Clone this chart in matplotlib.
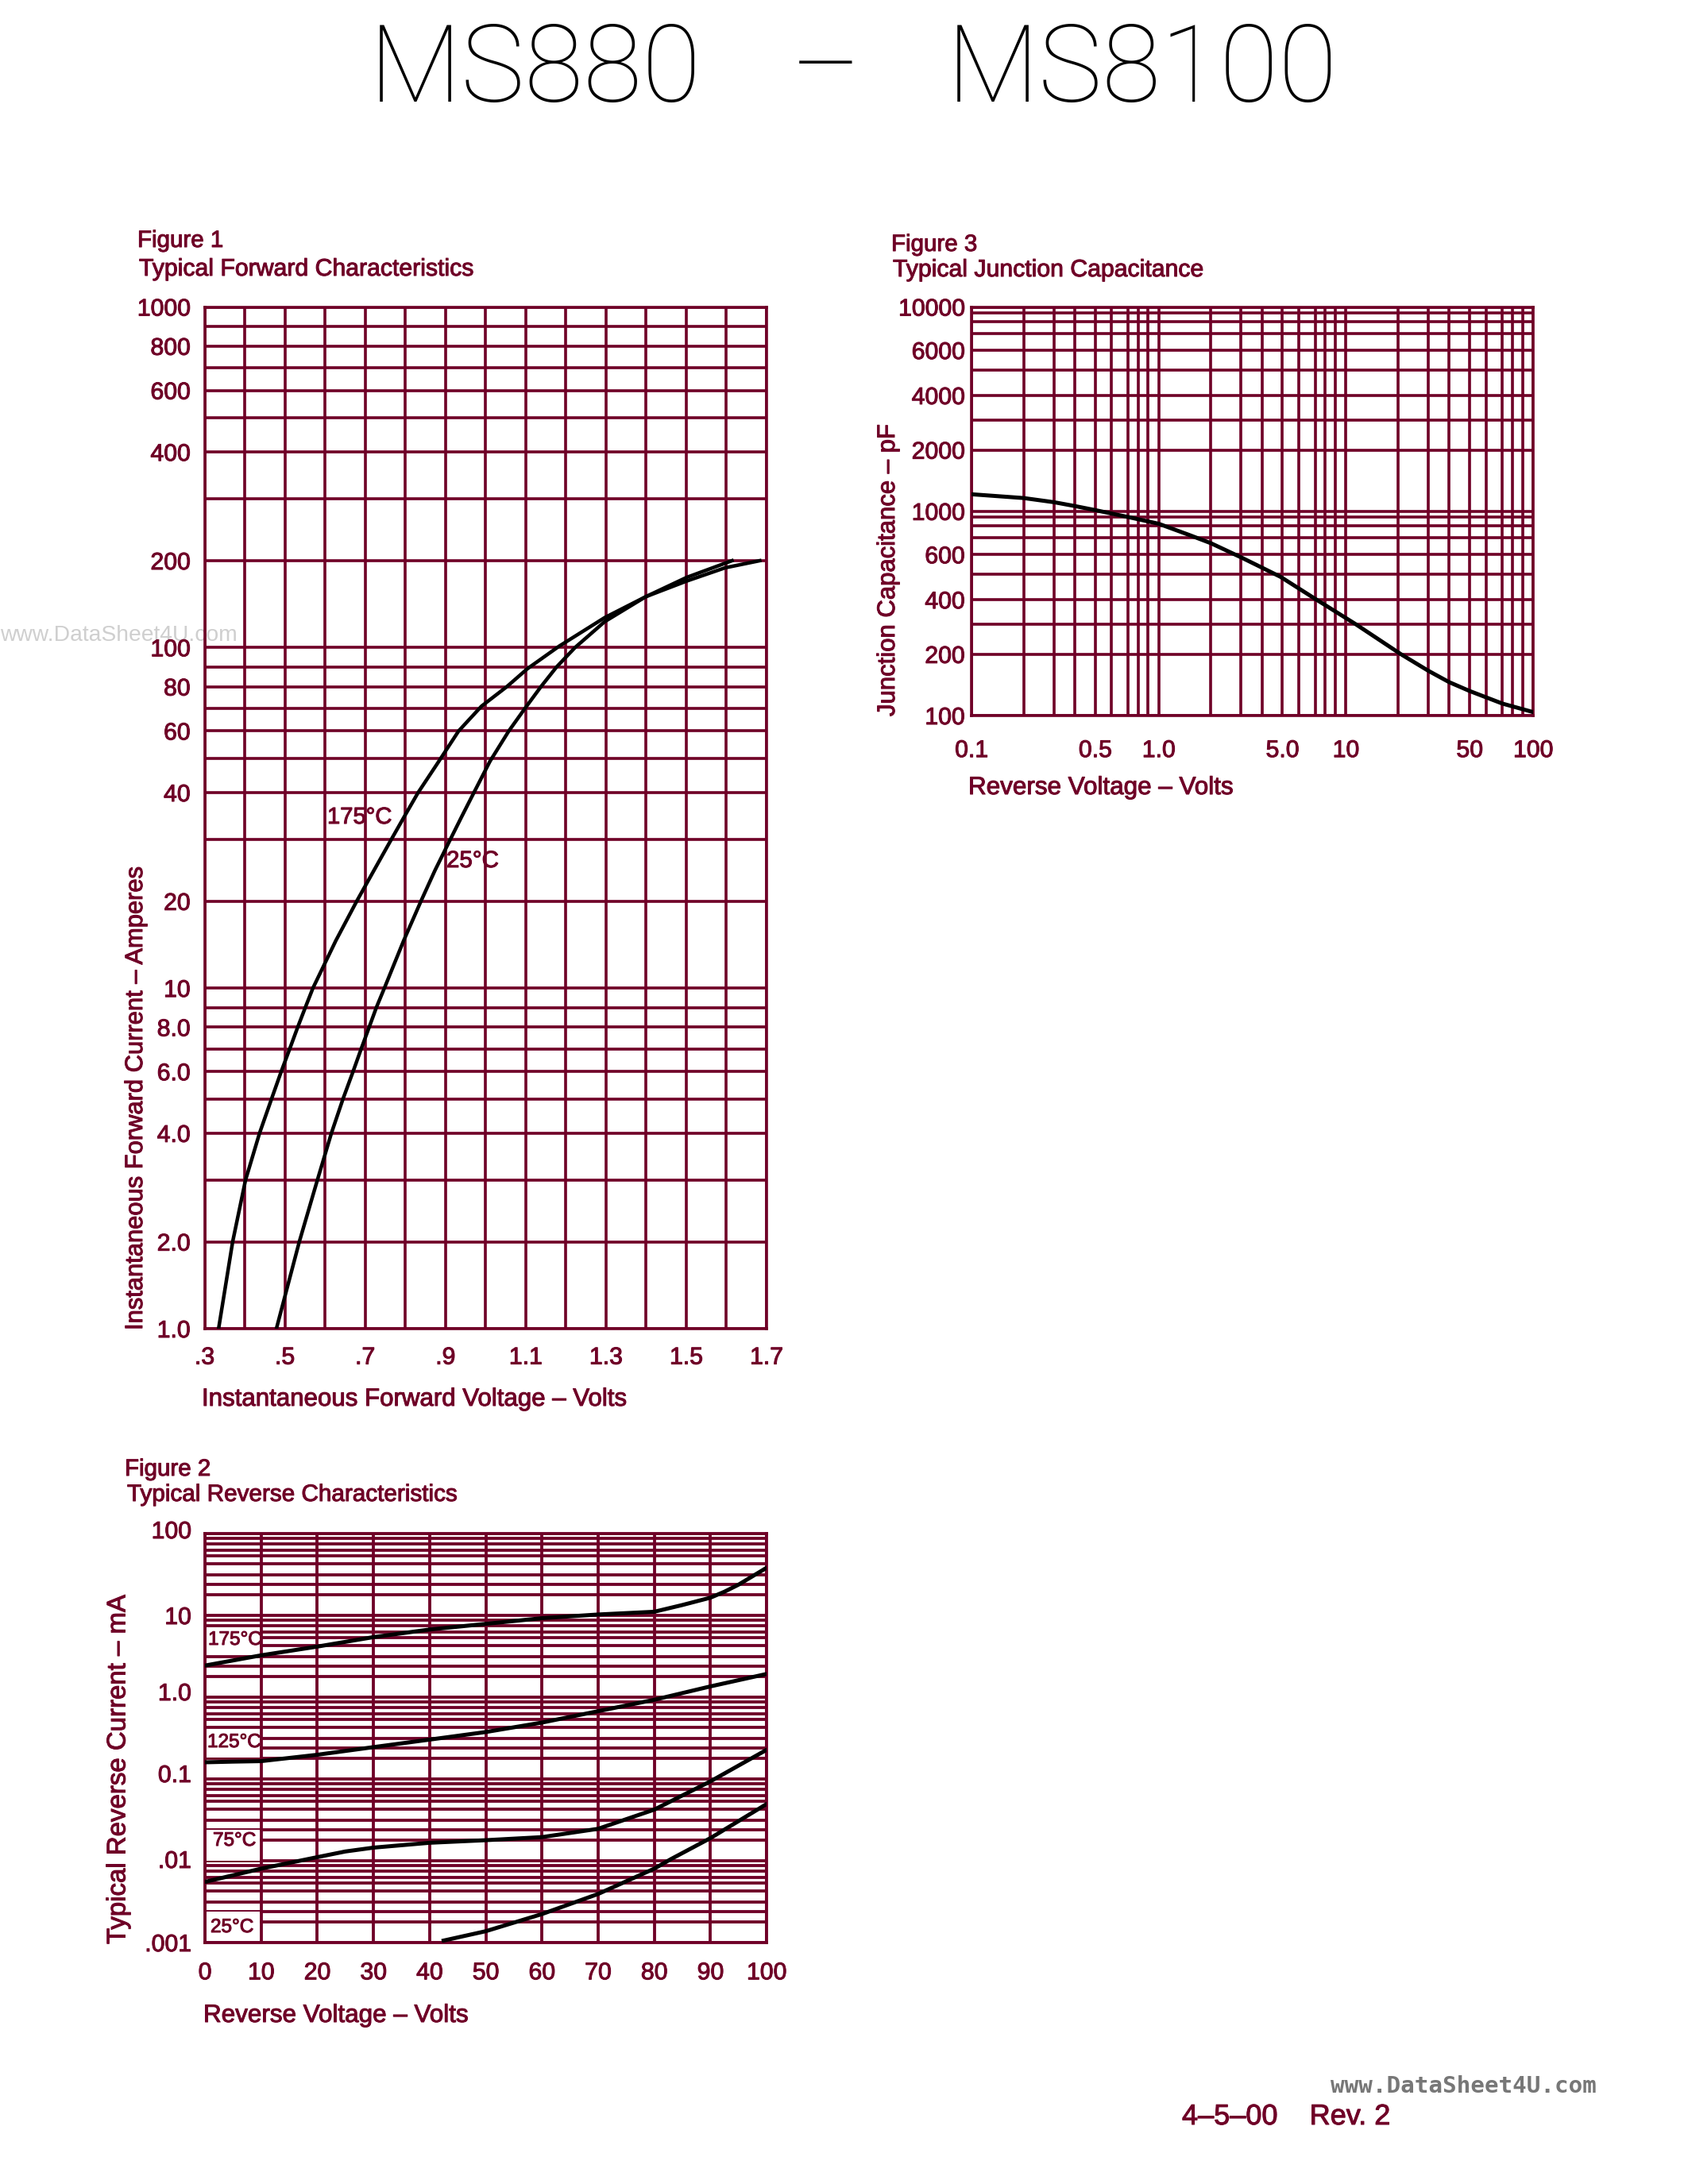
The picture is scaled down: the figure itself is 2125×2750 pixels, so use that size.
import numpy as np
import matplotlib
matplotlib.use("Agg")
import matplotlib.pyplot as plt
import matplotlib.patheffects as pe
from matplotlib.patches import Rectangle
from matplotlib.text import Text
from matplotlib.transforms import Affine2D
from matplotlib.ticker import NullFormatter

W, H = 2125, 2750
WINE = "#6f0027"
plt.rcParams["font.family"] = ["Liberation Sans", "DejaVu Sans"]

# Figure 1
f1_volts_175 = [.335,.370,.402,.437,.467,.491,.512,.532,.551,.570,.627,.679,.722,.765,.798,.832,.880,.933,.990,1.053,1.104,1.183,1.297,1.399,1.501,1.597,1.683]
f1_amps_175 = [1,2,3,4,5,6,7,8,9,10,14.6,20,24.5,30,34.6,40,48.3,60,71,80,89,101,127,150,170,189,200]
f1_volts_25 = [.479,.536,.581,.616,.645,.670,.690,.710,.728,.748,.796,.839,.874,.912,.941,.971,1.011,1.058,1.098,1.138,1.177,1.223,1.297,1.399,1.501,1.614]
f1_amps_25 = [1,2,3,4,5,6,7,8,9,10,14.6,20,24.5,30,34.6,40,49,60,70,80,90,100,123,150,175,200]
f1_xticks = [.3,.5,.7,.9,1.1,1.3,1.5,1.7]
f1_xlabels = [".3",".5",".7",".9","1.1","1.3","1.5","1.7"]
f1_xgrid = [.3,.4,.5,.6,.7,.8,.9,1.0,1.1,1.2,1.3,1.4,1.5,1.6,1.7]
f1_yticks = [1,2,4,6,8,10,20,40,60,80,100,200,400,600,800,1000]
f1_ylabels = ["1.0","2.0","4.0","6.0","8.0","10","20","40","60","80","100","200","400","600","800","1000"]
f1_spacing = [0,.255,.436,.574,.675,.755,.821,.885,.943,1]

# Figure 2
f2_v175 = [0,10,20,30,40,50,60,70,80,85,90,92.5,95,100]
f2_i175 = [3.08,4.08,4.90,6.09,7.33,8.29,9.43,10.3,11.3,14.2,18.2,22.7,30,46.0]
f2_v125 = [0,5,10,20,30,40,50,60,70,80,90,100]
f2_i125 = [.176,.180,.183,.232,.31,.383,.454,.559,.735,.947,1.44,2.23]
f2_v75 = [0,10,20,25,30,40,50,60,70,80,90,100]
f2_i75 = [.00619,.00841,.0113,.0137,.0156,.0184,.0201,.0227,.0311,.0496,.0951,.282]
f2_v25 = [42.5,50,60,70,80,83,90,100]
f2_i25 = [.00107,.00147,.00275,.00470,.00841,.0106,.0218,.0563]
f2_xticks = [0,10,20,30,40,50,60,70,80,90,100]
f2_yticks = [.001,.01,.1,1,10,100]
f2_ylabels = [".001",".01","0.1","1.0","10","100"]
f2_spacing = [0,.25,.375,.5,.63,.727,.8,.878,.938,1]

# Figure 3
f3_v = [.1,.2,.3,.4,.5,.7,1,1.5,2,3,4,4.9,7.13,11.4,20.8,30,40,50,70,100]
f3_c = [1212,1161,1108,1061,1013,906,821,722,666,585,533,490,400,300,200,166,146,132,114.5,104]
f3_xticks = [.1,.5,1,5,10,50,100]
f3_xlabels = ["0.1","0.5","1.0","5.0","10","50","100"]
f3_yticks = [100,200,400,600,1000,2000,4000,6000,10000]
f3_ylabels = ["100","200","400","600","1000","2000","4000","6000","10000"]
f3_yspacing = [0,.30,.447,.567,.69,.788,.87,.93,.97,1]
f3_xspacing = [0,.279,.44,.551,.661,.748,.836,.889,.943,1]
log_digits = np.log10(np.arange(1, 11))


def chart_scale(spacing):
    """Log-like scale with the uneven decade spacing of the printed graph paper."""
    spacing = np.asarray(spacing, float)
    def forward(v):
        lv = np.log10(np.clip(np.asarray(v, float), 1e-12, None))
        d = np.floor(lv + 1e-12)
        return d + np.interp(lv - d, log_digits, spacing)
    def inverse(p):
        p = np.asarray(p, float)
        d = np.floor(p)
        return 10.0 ** (d + np.interp(p - d, spacing, log_digits))
    return forward, inverse


def grid_values(lo_exp, hi_exp):
    vals = [m * 10.0 ** e for e in range(lo_exp, hi_exp) for m in range(1, 10)]
    return vals + [10.0 ** hi_exp]


fig = plt.figure(figsize=(W / 250, H / 250), dpi=250, facecolor="white")
px = Affine2D().scale(1 / W, -1 / H).translate(0, 1) + fig.transFigure


def make_axes(l, r, t, b, lw):
    ax = fig.add_axes([l / W, 1 - b / H, (r - l) / W, (b - t) / H])
    ax.patch.set_alpha(0)
    ax.set_axisbelow(True)
    for s in ax.spines.values():
        s.set_color(WINE)
        s.set_linewidth(lw)
    ax.grid(True, which="both", color=WINE, linewidth=lw)
    return ax


def label(x, y, s, size=9.2, color=WINE, ha="left", va="baseline", **kw):
    return fig.text(x, y, s, transform=px, fontsize=size, color=color, ha=ha, va=va, **kw)


LW = 1.05
TICK = 8.7

# ---- Figure 1
ax1 = make_axes(257.5, 965, 386.5, 1673, LW)
ax1.set_xlim(.3, 1.7)
ax1.set_yscale("function", functions=chart_scale(f1_spacing))
ax1.set_ylim(1, 1000)
ax1.set_xticks(f1_xgrid, minor=True)
ax1.set_yticks(grid_values(0, 3), minor=True)
ax1.set_xticks(f1_xticks, f1_xlabels)
ax1.set_yticks(f1_yticks, f1_ylabels)
ax1.yaxis.set_minor_formatter(NullFormatter())
ax1.tick_params(which="both", length=0, labelsize=TICK, labelcolor=WINE)
ax1.tick_params(axis="y", pad=5.2)
ax1.tick_params(axis="x", pad=6.5)
ax1.plot(f1_volts_175, f1_amps_175, color="black", lw=1.3, zorder=4)
ax1.plot(f1_volts_25, f1_amps_25, color="black", lw=1.3, zorder=4)
ax1.set_xlabel("Instantaneous Forward Voltage – Volts", ha="left", fontsize=9.0, color=WINE)
ax1.xaxis.set_label_coords(254, 1747, transform=px)
ax1.set_ylabel("Instantaneous Forward Current – Amperes", ha="left", va="center", fontsize=8.9, color=WINE)
ax1.yaxis.set_label_coords(171, 1675, transform=px)
label(173, 311, "Figure 1", 8.5)
label(175, 347, "Typical Forward Characteristics", 8.7)
label(412, 1029, "175°C", 8.4, va="center", zorder=6)
label(562, 1084, "25°C", 8.5, va="center", zorder=6)

# ---- Figure 2
ax2 = make_axes(258, 965, 1931, 2446, 1.1)
ax2.set_xlim(0, 100)
ax2.set_yscale("function", functions=chart_scale(f2_spacing))
ax2.set_ylim(.001, 100)
ax2.set_yticks(grid_values(-3, 2), minor=True)
ax2.set_xticks(f2_xticks)
ax2.set_yticks(f2_yticks, f2_ylabels)
ax2.yaxis.set_minor_formatter(NullFormatter())
ax2.tick_params(which="both", length=0, labelsize=TICK, labelcolor=WINE)
ax2.tick_params(axis="y", pad=5)
ax2.tick_params(axis="x", pad=7)
for tick, dy in zip(ax2.yaxis.get_major_ticks(), [0, 2, 7, 7, 0, 5]):
    tick.label1.set_transform(tick.label1.get_transform() + Affine2D().translate(0, dy))
for vv, ii in [(f2_v175, f2_i175), (f2_v125, f2_i125), (f2_v75, f2_i75), (f2_v25, f2_i25)]:
    ax2.plot(vv, ii, color="black", lw=1.45, zorder=4)
for top, bot in [(2049, 2083), (2177, 2213), (2304, 2343), (2407, 2444)]:
    ax2.add_patch(Rectangle((260, top), 67, bot - top, transform=px, facecolor="white",
                            edgecolor="none", zorder=2))
ax2.set_xlabel("Reverse Voltage – Volts", ha="left", fontsize=9.05, color=WINE)
ax2.xaxis.set_label_coords(256, 2523, transform=px)
ax2.set_ylabel("Typical Reverse Current – mA", ha="left", va="center", fontsize=9.5, color=WINE)
ax2.yaxis.set_label_coords(149, 2448, transform=px)
label(157, 1858, "Figure 2", 8.5)
label(160, 1890, "Typical Reverse Characteristics", 8.55)
for x, y, s in [(262, 2065, "175°C"), (261, 2194, "125°C"), (268, 2318, "75°C"), (265, 2427, "25°C")]:
    label(x, y, s, 7.0, va="center", zorder=6)

# ---- Figure 3
ax3 = make_axes(1223, 1930, 386.5, 901, LW)
ax3.set_xscale("function", functions=chart_scale(f3_xspacing))
ax3.set_yscale("function", functions=chart_scale(f3_yspacing))
ax3.set_xlim(.1, 100)
ax3.set_ylim(100, 10000)
ax3.set_xticks(grid_values(-1, 2), minor=True)
ax3.set_yticks(grid_values(2, 4), minor=True)
ax3.set_xticks(f3_xticks, f3_xlabels)
ax3.set_yticks(f3_yticks, f3_ylabels)
ax3.xaxis.set_minor_formatter(NullFormatter())
ax3.yaxis.set_minor_formatter(NullFormatter())
ax3.tick_params(which="both", length=0, labelsize=TICK, labelcolor=WINE)
ax3.tick_params(axis="y", pad=2.5)
ax3.tick_params(axis="x", pad=8.7)
ax3.plot(f3_v, f3_c, color="black", lw=1.45, zorder=4)
ax3.set_xlabel("Reverse Voltage – Volts", ha="left", fontsize=9.05, color=WINE)
ax3.xaxis.set_label_coords(1219, 977, transform=px)
ax3.set_ylabel("Junction Capacitance – pF", ha="left", va="center", fontsize=8.95, color=WINE)
ax3.yaxis.set_label_coords(1118, 902, transform=px)
label(1122, 316, "Figure 3", 8.5)
label(1124, 348, "Typical Junction Capacitance", 8.7)

# ---- Page text
title_family = ["Roboto", "Lato", "Liberation Sans"]
label(674, 128, "MS880", 39, color="black", ha="center", family=title_family, fontweight=100)
label(1040, 128, "–", 39, color="black", ha="center", family=title_family, fontweight=100)
label(1438, 128, "MS8100", 39, color="black", ha="center", family=title_family, fontweight=100)
label(0, 800, "www.DataSheet4U.com", 8.15, color="#cfcfcf", va="center", zorder=-1)
label(1675, 2635, "www.DataSheet4U.com", 8.45, color="#777777", family="DejaVu Sans Mono", fontweight="bold")
label(1488, 2675, "4–5–00    Rev. 2", 10.4)

# heavier strokes for the wine-coloured lettering, like the plotter font
for t in fig.findobj(Text):
    if t.get_color() == WINE:
        t.set_path_effects([pe.withStroke(linewidth=0.3, foreground=WINE)])

fig.savefig("out.png", dpi=250, facecolor="white")
